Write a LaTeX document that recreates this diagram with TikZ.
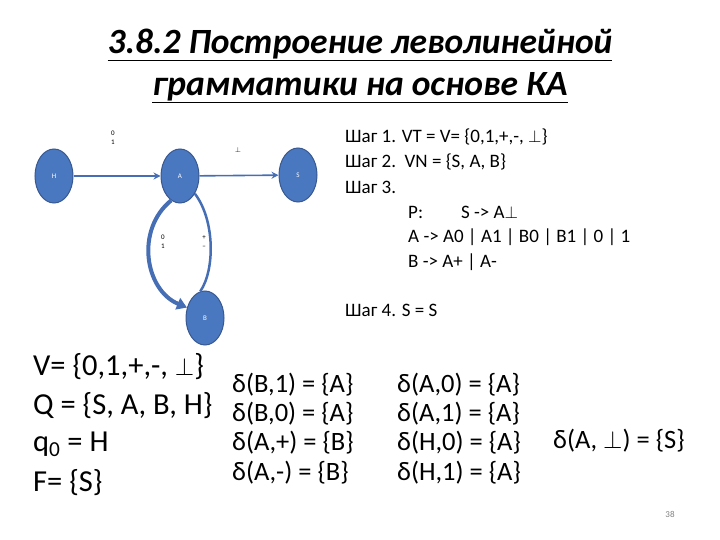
\documentclass[tikz,border=0pt]{standalone}
\usepackage{fontspec}
\setmainfont{Carlito}
\usetikzlibrary{arrows.meta,shapes.geometric}
\definecolor{nodeblue}{RGB}{74,120,192}
\definecolor{edgeblue}{RGB}{70,110,180}
\tikzset{
 st/.style={ellipse,draw=edgeblue!80!black,line width=1pt,fill=nodeblue,minimum width=38pt,minimum height=54pt,inner sep=0pt,text=white,font=\fontsize{7}{8}\selectfont},
 edge/.style={draw=edgeblue,line width=1.6pt,-{Stealth[length=7pt,width=7pt]}},
 el/.style={font=\fontsize{7}{9}\selectfont,align=center},
 rt/.style={anchor=west,font=\fontsize{19}{22}\selectfont,inner sep=0pt},
 bt/.style={anchor=west,font=\fontsize{30.5}{34}\selectfont,inner sep=0pt},
 dt/.style={anchor=west,font=\fontsize{26.5}{30}\selectfont,inner sep=0pt}
}
\begin{document}
\begin{tikzpicture}[x=1pt,y=-1pt]
\useasboundingbox (0,0) rectangle (720,540);
\node[font=\fontsize{35.5}{42}\selectfont\bfseries\itshape,align=center] (title) at (360,66)
 {\underline{3.8.2 Построение леволинейной}\\\underline{грамматики на основе КА}};
\node[st] (H) at (54,176) {H};
\node[st] (A) at (180,176) {A};
\node[st] (S) at (298,175) {S};
\node[st] (B) at (205,318) {B};
\draw[edge] (H) -- (A);
\draw[edge] (A) -- (S);
\draw[draw=edgeblue,line width=4pt,-{Triangle[length=10pt,width=12pt]}] (A.250) .. controls (135,230) and (145,290) .. (B.150);
\draw[draw=edgeblue,line width=2.5pt] (A.310) .. controls (215,220) and (215,270) .. (B.100);
\node[el] (l1) at (113,138) {0\\1};
\node[el] (l2) at (238,150) {$\bot$};
\node[el] (l3) at (163,242) {0\\1};
\node[el] (l4) at (204,242) {+\\–};
\node[rt] (r1) at (345,137) {Шаг 1. VT = V= \{0,1,+,-, $\bot$\}};
\node[rt] (r2) at (345,162) {Шаг 2.\ \ VN = \{S, A, B\}};
\node[rt] (r3) at (345,187) {Шаг 3.};
\node[rt] (r4) at (408,212) {P:\hspace{38pt}S -> A$\bot$};
\node[rt] (r5) at (408,237) {A -> A0 | A1 | B0 | B1 | 0 | 1};
\node[rt] (r6) at (408,262) {B -> A+ | A-};
\node[rt] (r7) at (345,310) {Шаг 4. S = S};
\node[bt] (b1) at (33,367) {V= \{0,1,+,-, $\bot$\}};
\node[bt] (b2) at (33,406) {Q = \{S, A, B, H\}};
\node[bt] (b3) at (33,444) {q\textsubscript{0} = H};
\node[bt] (b4) at (33,483) {F= \{S\}};
\node[dt] (c1) at (232,385) {δ(B,1) = \{A\}};
\node[dt] (c2) at (232,414) {δ(B,0) = \{A\}};
\node[dt] (c3) at (232,443) {δ(A,+) = \{B\}};
\node[dt] (c4) at (232,473) {δ(A,-) = \{B\}};
\node[dt] (d1) at (397,385) {δ(A,0) = \{A\}};
\node[dt] (d2) at (397,414) {δ(A,1) = \{A\}};
\node[dt] (d3) at (397,443) {δ(H,0) = \{A\}};
\node[dt] (d4) at (397,473) {δ(H,1) = \{A\}};
\node[dt] (e1) at (553,441) {δ(A, $\bot$) = \{S\}};
\node[font=\fontsize{9}{10}\selectfont,text=gray] (pg) at (670,514) {38};
\end{tikzpicture}
\end{document}
